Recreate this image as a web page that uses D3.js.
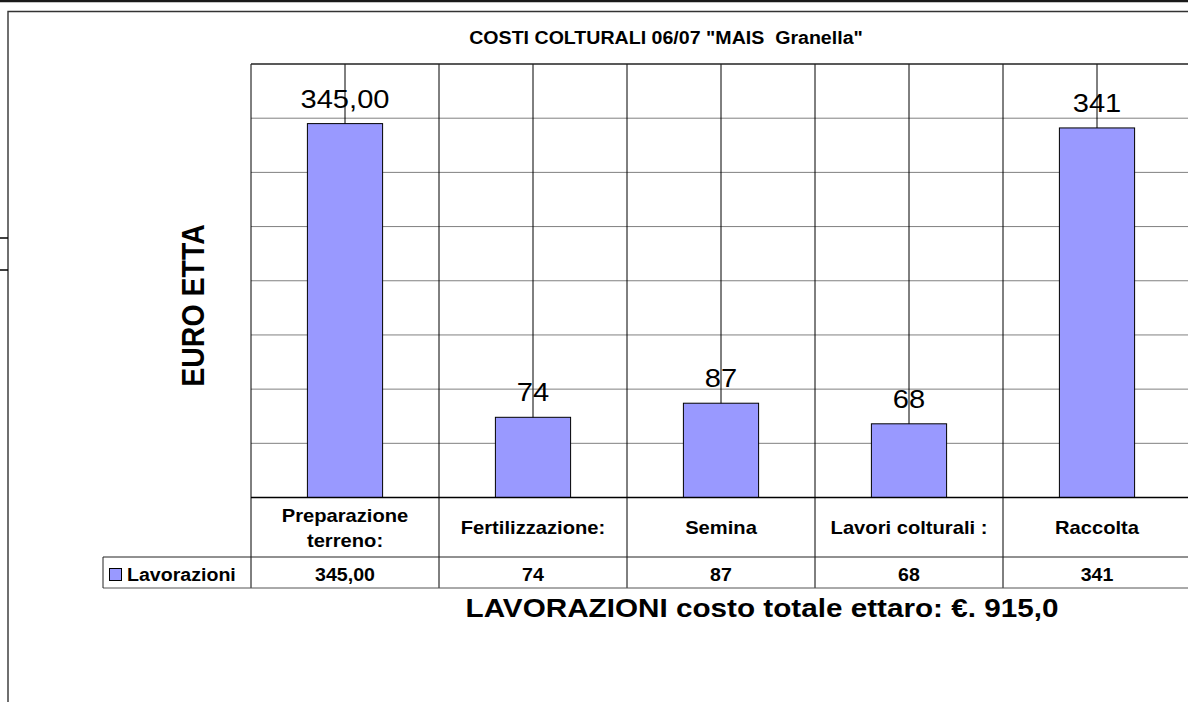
<!DOCTYPE html>
<html>
<head>
<meta charset="utf-8">
<script src="https://cdn.jsdelivr.net/npm/d3@7"></script>
<style>
  body { margin: 0; background: #fff; }
  svg text { font-family: Arial, "Liberation Sans", sans-serif; white-space: pre; }
</style>
</head>
<body>
<div id="chart"></div>
<script>
// Data
const categories = [["Preparazione", "terreno:"], ["Fertilizzazione:"], ["Semina"], ["Lavori colturali :"], ["Raccolta"]]
const values = [345, 74, 87, 68, 341]
const valueLabels = ["345,00", "74", "87", "68", "341"]
const seriesName = "Lavorazioni"
const yTicks = [0, 50, 100, 150, 200, 250, 300, 350, 400]
const chartTitle = 'COSTI COLTURALI 06/07 "MAIS  Granella"'
const yTitle = "EURO ETTA"
const xTitle = "LAVORAZIONI costo totale ettaro: €. 915,0"

// Dimensions
const W = 1188, H = 702
const sx = 1.12  // text is slightly stretched horizontally in the original
let plot = {left: 251, top: 64, right: 1191, bottom: 497.5},
    catRowBottom = 557,
    valRowBottom = 588,
    legendLeft = 103

const svg = d3.select('#chart')
    .append('svg')
    .attr('width', W)
    .attr('height', H)

// Scales
let x = d3.scaleBand()
    .domain(d3.range(categories.length))
    .range([plot.left, plot.right])
    .padding(0)
let y = d3.scaleLinear()
    .domain([0, d3.max(yTicks)])
    .range([plot.bottom, plot.top])
let bw = x.bandwidth()

// helper for stretched text
function label(g, str, px, py, size, opts) {
    opts = opts || {}
    return g.append('text')
        .attr('transform', 'translate(' + px + ',' + py + ') scale(' + sx + ',1)' + (opts.rotate ? ' rotate(' + opts.rotate + ')' : ''))
        .attr('text-anchor', opts.anchor || 'middle')
        .attr('font-size', size)
        .attr('font-weight', opts.bold ? 'bold' : 'normal')
        .attr('fill', '#000')
        .text(str)
}

// Page frame
svg.append('line').attr('x1', 0).attr('x2', W).attr('y1', 1).attr('y2', 1)
    .attr('stroke', '#1a1a1a').attr('stroke-width', 2.5)
svg.append('path')
    .attr('d', 'M8,' + H + 'V11.5H' + W)
    .attr('fill', 'none').attr('stroke', '#333').attr('stroke-width', 1.4)
;[238, 270].forEach(v => {
    svg.append('line').attr('x1', 0).attr('x2', 8).attr('y1', v).attr('y2', v)
        .attr('stroke', '#000').attr('stroke-width', 1.5)
})

// Horizontal gridlines
svg.append('g')
    .selectAll('line')
    .data(yTicks.slice(1, -1))
    .enter()
    .append('line')
    .attr('x1', plot.left).attr('x2', W)
    .attr('y1', d => y(d)).attr('y2', d => y(d))
    .attr('stroke', '#808080').attr('stroke-width', 1)

// Vertical gridlines: category centres
svg.append('g')
    .selectAll('line')
    .data(d3.range(categories.length))
    .enter()
    .append('line')
    .attr('x1', i => x(i) + bw / 2).attr('x2', i => x(i) + bw / 2)
    .attr('y1', plot.top).attr('y2', plot.bottom)
    .attr('stroke', '#000').attr('stroke-width', 1)

// Category boundaries, run down through the data table
svg.append('g')
    .selectAll('line')
    .data(d3.range(categories.length))
    .enter()
    .append('line')
    .attr('x1', i => x(i)).attr('x2', i => x(i))
    .attr('y1', plot.top).attr('y2', valRowBottom)
    .attr('stroke', '#000').attr('stroke-width', 1)

// Plot top border
svg.append('line').attr('x1', plot.left).attr('x2', W).attr('y1', plot.top).attr('y2', plot.top)
    .attr('stroke', '#222').attr('stroke-width', 1.5)

// Bars
svg.append('g')
    .selectAll('rect')
    .data(values)
    .enter()
    .append('rect')
    .attr('x', (d, i) => x(i) + bw * 0.3)
    .attr('y', d => y(d))
    .attr('width', bw * 0.4)
    .attr('height', d => y(0) - y(d))
    .attr('fill', '#9999ff')
    .attr('stroke', '#000')
    .attr('stroke-width', 1)

// Table lines
svg.append('line').attr('x1', plot.left).attr('x2', W).attr('y1', plot.bottom).attr('y2', plot.bottom)
    .attr('stroke', '#000').attr('stroke-width', 1.6)
svg.append('line').attr('x1', legendLeft).attr('x2', W).attr('y1', catRowBottom).attr('y2', catRowBottom)
    .attr('stroke', '#222').attr('stroke-width', 1)
svg.append('line').attr('x1', legendLeft).attr('x2', W).attr('y1', valRowBottom).attr('y2', valRowBottom)
    .attr('stroke', '#555').attr('stroke-width', 1)
svg.append('line').attr('x1', legendLeft).attr('x2', legendLeft).attr('y1', catRowBottom).attr('y2', valRowBottom)
    .attr('stroke', '#222').attr('stroke-width', 1)

// Data labels above bars
let lg = svg.append('g')
values.forEach((v, i) => {
    label(lg, valueLabels[i], x(i) + bw / 2, y(v) - 16, 26)
})

// Category labels
let cg = svg.append('g')
categories.forEach((lines, i) => {
    let cx = x(i) + bw / 2
    if (lines.length === 1) {
        label(cg, lines[0], cx, 534, 18, {bold: true})
    } else {
        lines.forEach((t, j) => label(cg, t, cx, 521.5 + j * 25, 18, {bold: true}))
    }
})

// Value row
values.forEach((v, i) => {
    label(cg, valueLabels[i], x(i) + bw / 2, 581, 17.5, {bold: true})
})

// Legend key
svg.append('rect')
    .attr('x', 109.5).attr('y', 568.5).attr('width', 12).attr('height', 12)
    .attr('fill', '#9999ff').attr('stroke', '#000').attr('stroke-width', 1)
label(svg, seriesName, 127, 581, 17.5, {bold: true, anchor: 'start'})

// Titles
label(svg, chartTitle, 666, 44, 17.5, {bold: true})
label(svg, yTitle, 204, 305.5, 28.5, {bold: true, rotate: -90})
label(svg, xTitle, 762, 617, 26.5, {bold: true})
</script>
</body>
</html>
